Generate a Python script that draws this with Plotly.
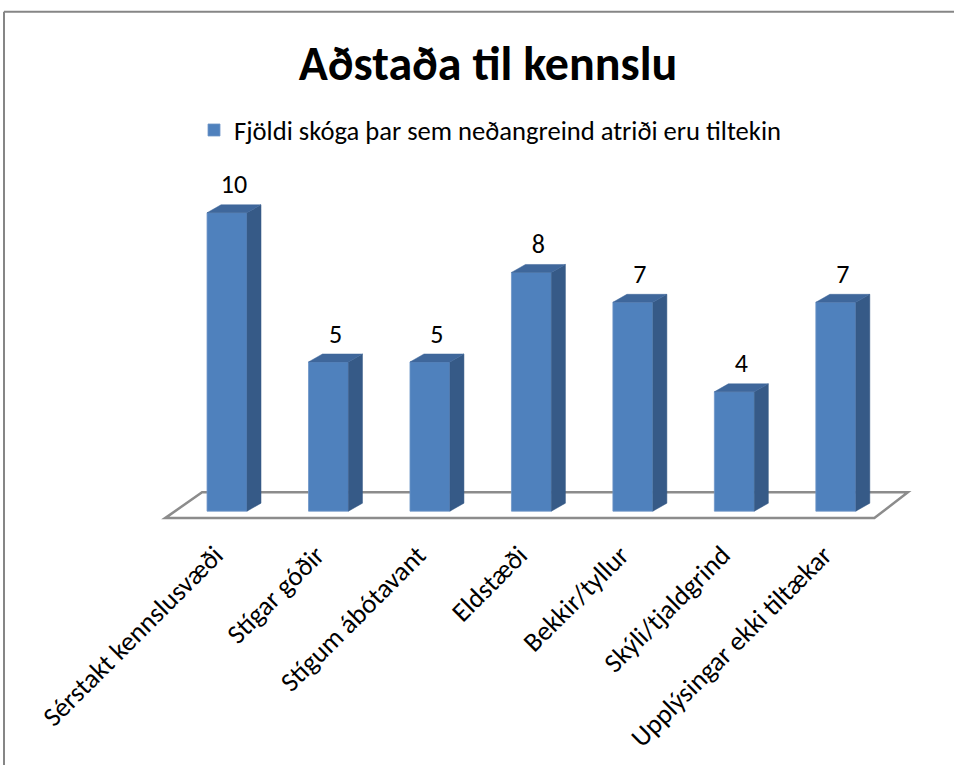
import plotly.graph_objects as go

categories = ["Sérstakt kennslusvæði", "Stígar góðir", "Stígum ábótavant", "Eldstæði",
              "Bekkir/tyllur", "Skýli/tjaldgrind", "Upplýsingar ekki tiltækar"]
values = [10, 5, 5, 8, 7, 4, 7]
series_name = "Fjöldi skóga þar sem neðangreind atriði eru tiltekin"
title_text = "Aðstaða til kennslu"

FONT = "Carlito, Calibri, Lato, sans-serif"
FRONT = "#4F81BD"
SIDE = "#365A87"
TOP = "#3F679B"

n = len(categories)
xs = list(range(n))
w = 0.394          # bar width in category units
dx = 0.138         # depth offset (x, category units)
dy = 0.267         # depth offset (y, value units)

fig = go.Figure()

# front faces
fig.add_trace(go.Bar(x=xs, y=values, width=w, name=series_name,
                     marker=dict(color=FRONT, line=dict(color="#6E95C8", width=0.8)),
                     showlegend=True))

# side and top faces
sx, sy, tx, ty = [], [], [], []
for i, v in zip(xs, values):
    r = i + w / 2
    l = i - w / 2
    sx += [r, r + dx, r + dx, r, r, None]
    sy += [0, dy, v + dy, v, 0, None]
    tx += [l, l + dx, r + dx, r, l, None]
    ty += [v, v + dy, v + dy, v, v, None]
fig.add_trace(go.Scatter(x=sx, y=sy, mode="lines", fill="toself", fillcolor=SIDE,
                         line=dict(color=SIDE, width=0.5), showlegend=False, hoverinfo="skip"))
fig.add_trace(go.Scatter(x=tx, y=ty, mode="lines", fill="toself", fillcolor=TOP,
                         line=dict(color=TOP, width=0.5), showlegend=False, hoverinfo="skip"))

# data labels
fig.add_trace(go.Scatter(x=[i + dx / 2 for i in xs], y=[v + 0.87 for v in values],
                         mode="text", text=[str(v) for v in values],
                         textfont=dict(family=FONT, size=26, color="black"),
                         textposition="middle center", showlegend=False, hoverinfo="skip"))

# floor (3D base), drawn below the bars
fl_front_y, fl_back_y = -0.233, 0.633
fx = [-0.61, n - 1 + 0.38, n - 1 + 0.71, -0.246]
fy = [fl_front_y, fl_front_y, fl_back_y, fl_back_y]
floor_path = "M " + " L ".join(f"{a},{b}" for a, b in zip(fx, fy)) + " Z"

# chart-area frame (top and left edges visible)
bx0 = (4 - 156) / 761
by1 = (543 - 11) / 375

fig.update_layout(
    width=954, height=765,
    margin=dict(l=156, r=37, t=168, b=222),
    paper_bgcolor="white", plot_bgcolor="white",
    title=dict(text="<b>" + title_text + "</b>", x=488 / 954, xanchor="center",
               y=1 - 63 / 765, yanchor="middle",
               font=dict(family=FONT, size=48, color="black")),
    legend=dict(orientation="h", x=(490 - 156) / 761, xanchor="center",
                y=(543 - 130) / 375, yanchor="middle",
                font=dict(family=FONT, size=26.6, color="black"),
                bgcolor="rgba(0,0,0,0)"),
    xaxis=dict(range=[-0.7, 6.8], tickvals=xs, ticktext=categories, tickangle=-45,
               showgrid=False, zeroline=False, showline=False, ticks="",
               ticklabelshift=-12, ticklabelstandoff=-8,
               tickfont=dict(family=FONT, size=27, color="black")),
    yaxis=dict(range=[-1, 11.5], visible=False),
    shapes=[
        dict(type="path", xref="x", yref="y", path=floor_path, fillcolor="white",
             line=dict(color="#8C8C8C", width=2.5), layer="below"),
        dict(type="line", xref="paper", yref="paper", x0=bx0, x1=(960 - 156) / 761,
             y0=by1, y1=by1, line=dict(color="#868686", width=2), layer="below"),
        dict(type="line", xref="paper", yref="paper", x0=bx0, x1=bx0,
             y0=by1, y1=(543 - 800) / 375, line=dict(color="#868686", width=2), layer="below"),
    ],
    showlegend=True,
)

fig.write_html("out.html", config={"displayModeBar": False},
               post_script=("var s=document.createElement('style');"
                            "s.textContent='html,body{margin:0;padding:0;overflow:hidden;"
                            "scrollbar-width:none;height:765px;}"
                            "::-webkit-scrollbar{display:none;width:0;height:0;}';"
                            "document.head.appendChild(s);"))
